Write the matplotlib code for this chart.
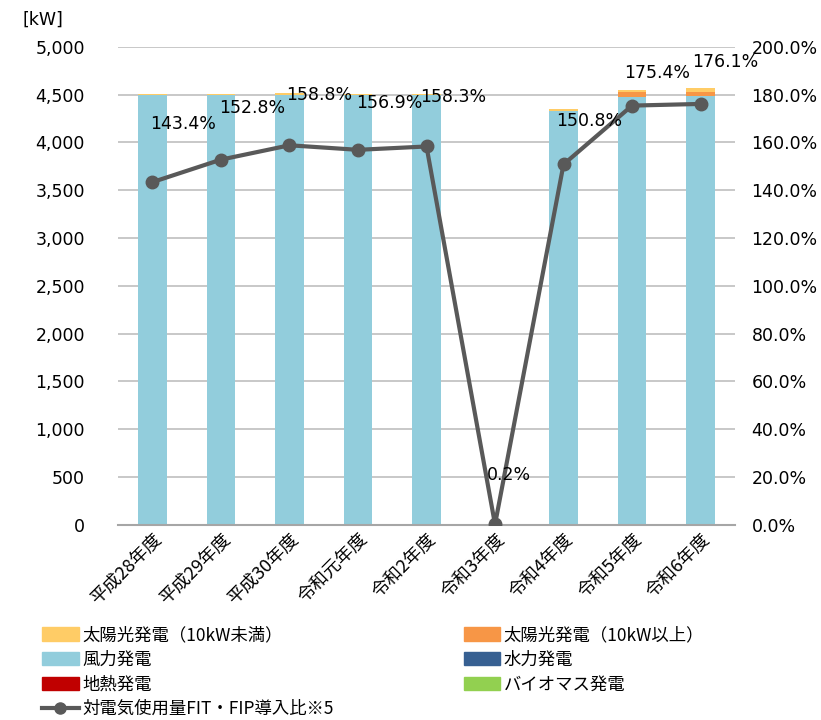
import numpy as np
import matplotlib
matplotlib.use("Agg")
import matplotlib.pyplot as plt
from matplotlib.ticker import FuncFormatter, MultipleLocator
from matplotlib.lines import Line2D

plt.rcParams['font.family'] = ['DejaVu Sans', 'Noto Sans CJK JP']

# data
years = ["平成28年度", "平成29年度", "平成30年度", "令和元年度", "令和2年度",
         "令和3年度", "令和4年度", "令和5年度", "令和6年度"]
solar_small = [12, 12, 15, 15, 15, 3, 20, 21, 42]      # 太陽光発電（10kW未満）
solar_large = [0, 0, 0, 0, 0, 3, 5, 52, 42]            # 太陽光発電（10kW以上）
wind = [4495, 4495, 4497, 4492, 4492, 0, 4325, 4477, 4487]
hydro = [0, 0, 0, 0, 0, 0, 0, 0, 0]
geothermal = [0, 0, 0, 0, 0, 0, 0, 0, 0]
biomass = [0, 0, 0, 0, 0, 0, 0, 0, 0]
ratio = [143.4, 152.8, 158.8, 156.9, 158.3, 0.2, 150.8, 175.4, 176.1]

# label offsets in pixels (manually placed in the original)
label_offsets = [(31, 58), (31, 52), (30, 50), (31, 47), (27, 49),
                 (14, 49), (26, 43), (25, 33), (25, 42)]

c_small = "#FFCC66"
c_large = "#F79646"
c_wind = "#92CDDC"
c_hydro = "#376092"
c_geo = "#C00000"
c_bio = "#92D050"
c_line = "#595959"

fig = plt.figure(figsize=(8.21, 7.2), dpi=100)
ax = fig.add_axes([0.144, 0.271, 0.751, 0.664])
x = np.arange(len(years))
w = 0.41

bottom = np.zeros(len(years))
for vals, col in [(wind, c_wind), (hydro, c_hydro), (geothermal, c_geo),
                  (biomass, c_bio), (solar_large, c_large), (solar_small, c_small)]:
    ax.bar(x, vals, w, bottom=bottom, color=col, linewidth=0, zorder=2)
    bottom += np.array(vals)

ax.set_ylim(0, 5000)
ax.set_xlim(-0.5, len(years) - 0.5)
ax.yaxis.set_major_locator(MultipleLocator(500))
ax.yaxis.set_major_formatter(FuncFormatter(lambda v, p: f"{int(v):,}"))
ax.grid(axis='y', color='#BFBFBF', linewidth=1.2, zorder=0)
ax.set_axisbelow(True)
for s in ['top', 'left', 'right']:
    ax.spines[s].set_visible(False)
ax.spines['bottom'].set_color('#A6A6A6')
ax.spines['bottom'].set_linewidth(1.5)
ax.tick_params(axis='both', length=0, labelsize=12.5, colors='black')
ax.tick_params(axis='y', pad=24)
ax.set_xticks(x)
ax.set_xticklabels(years, rotation=45, ha='right', rotation_mode='anchor',
                   family=['Noto Sans CJK JP'], fontsize=13)

ax2 = ax.twinx()
ax2.plot(x, ratio, color=c_line, linewidth=3, marker='o', markersize=9, zorder=5)
ax2.set_ylim(0, 200)
ax2.yaxis.set_major_locator(MultipleLocator(20))
ax2.yaxis.set_major_formatter(FuncFormatter(lambda v, p: f"{v:.1f}%"))
for s in ['top', 'left', 'right', 'bottom']:
    ax2.spines[s].set_visible(False)
ax2.tick_params(axis='y', length=0, labelsize=12.5, pad=12)
for xi, r, off in zip(x, ratio, label_offsets):
    ax2.annotate(f"{r}%", (xi, r), xytext=off, textcoords='offset pixels',
                 ha='center', va='center', fontsize=12.5, zorder=6)

fig.text(0.027, 0.972, "[kW]", fontsize=12.5, ha='left', va='center')

handles = [
    plt.Rectangle((0, 0), 1, 1, color=c_small),
    plt.Rectangle((0, 0), 1, 1, color=c_wind),
    plt.Rectangle((0, 0), 1, 1, color=c_geo),
    Line2D([0], [0], color=c_line, linewidth=3, marker='o', markersize=8),
    plt.Rectangle((0, 0), 1, 1, color=c_large),
    plt.Rectangle((0, 0), 1, 1, color=c_hydro),
    plt.Rectangle((0, 0), 1, 1, color=c_bio),
]
labels = ["太陽光発電（10kW未満）", "風力発電", "地熱発電", "対電気使用量FIT・FIP導入比※5",
          "太陽光発電（10kW以上）", "水力発電", "バイオマス発電"]
fig.legend(handles, labels, ncol=2, loc='upper left', bbox_to_anchor=(0.043, 0.14),
           frameon=False, prop={'family': ['Noto Sans CJK JP'], 'size': 12.5},
           handlelength=2.1, handleheight=0.8, handletextpad=0.2, labelspacing=0.38,
           columnspacing=7.5, borderaxespad=0)

fig.savefig("out.png", dpi=100)
